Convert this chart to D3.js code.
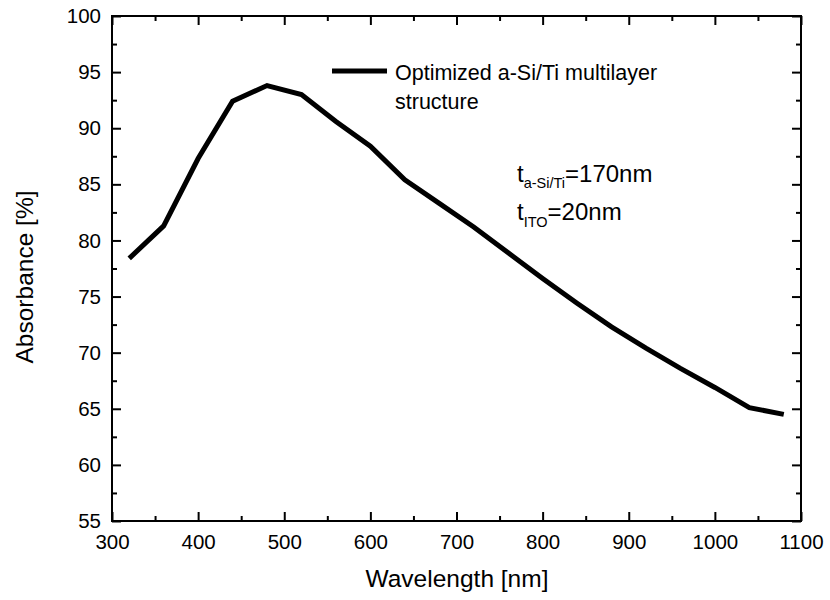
<!DOCTYPE html>
<html>
<head>
<meta charset="utf-8">
<script src="https://cdn.jsdelivr.net/npm/d3@7"></script>
<style>
  body { margin: 0; background: #fff; }
  svg { display: block; font-family: "Liberation Sans", Arial, sans-serif; }
</style>
</head>
<body>
<svg id="chart" width="830" height="600"></svg>
<script>
// Simulated absorbance spectrum of the optimized multilayer
const wavelengths = [320, 360, 400, 440, 480, 520, 560, 600, 640, 680, 720, 760, 800, 840, 880, 920, 960, 1000, 1040, 1080];
const absorbance = [78.4, 81.3, 87.3, 92.4, 93.8, 93.0, 90.6, 88.4, 85.4, 83.3, 81.2, 78.9, 76.6, 74.4, 72.3, 70.4, 68.6, 66.9, 65.1, 64.5];

const xMajorTicks = [300, 400, 500, 600, 700, 800, 900, 1000, 1100];
const xMinorTicks = [350, 450, 550, 650, 750, 850, 950, 1050];
const yMajorTicks = [55, 60, 65, 70, 75, 80, 85, 90, 95, 100];
const yMinorTicks = [57.5, 62.5, 67.5, 72.5, 77.5, 82.5, 87.5, 92.5, 97.5];

const seriesLabel = ["Optimized a-Si/Ti multilayer", "structure"];
const xTitle = "Wavelength [nm]";
const yTitle = "Absorbance [%]";

const svg = d3.select("#chart");
const margin = { left: 112, right: 29, top: 16, bottom: 79 };
const W = 830, H = 600;
const iw = W - margin.left - margin.right;
const ih = H - margin.top - margin.bottom;

const x = d3.scaleLinear().domain([300, 1100]).range([0, iw]);
const y = d3.scaleLinear().domain([55, 100]).range([ih, 0]);

const g = svg.append("g").attr("transform", `translate(${margin.left},${margin.top})`);

const majorLen = 9, minorLen = 5, fs = 20.5;

function styleAxis(sel) {
  sel.select(".domain").remove();
  sel.selectAll(".tick line").attr("stroke", "#000").attr("stroke-width", 2);
  sel.selectAll(".tick text").attr("fill", "#000").style("font-size", fs + "px").style("font-family", "Liberation Sans, Arial, sans-serif");
}

// bottom
g.append("g").attr("transform", `translate(0,${ih})`)
  .call(d3.axisBottom(x).tickValues(xMajorTicks).tickSize(-majorLen).tickPadding(13).tickFormat(d3.format("d")))
  .call(styleAxis);
g.append("g").attr("transform", `translate(0,${ih})`)
  .call(d3.axisBottom(x).tickValues(xMinorTicks).tickSize(-minorLen).tickFormat(""))
  .call(styleAxis);
// top
g.append("g")
  .call(d3.axisTop(x).tickValues(xMajorTicks).tickSize(-majorLen).tickFormat(""))
  .call(styleAxis);
g.append("g")
  .call(d3.axisTop(x).tickValues(xMinorTicks).tickSize(-minorLen).tickFormat(""))
  .call(styleAxis);
// left
g.append("g")
  .call(d3.axisLeft(y).tickValues(yMajorTicks).tickSize(-majorLen).tickPadding(11).tickFormat(d3.format("d")))
  .call(styleAxis);
g.append("g")
  .call(d3.axisLeft(y).tickValues(yMinorTicks).tickSize(-minorLen).tickFormat(""))
  .call(styleAxis);
// right
g.append("g").attr("transform", `translate(${iw},0)`)
  .call(d3.axisRight(y).tickValues(yMajorTicks).tickSize(-majorLen).tickFormat(""))
  .call(styleAxis);
g.append("g").attr("transform", `translate(${iw},0)`)
  .call(d3.axisRight(y).tickValues(yMinorTicks).tickSize(-minorLen).tickFormat(""))
  .call(styleAxis);

// frame
g.append("rect").attr("x", 0).attr("y", 0).attr("width", iw).attr("height", ih)
  .attr("fill", "none").attr("stroke", "#000").attr("stroke-width", 2);

// data line
const line = d3.line().x((d, i) => x(wavelengths[i])).y(d => y(d));
g.append("path").datum(absorbance)
  .attr("d", line)
  .attr("fill", "none").attr("stroke", "#000").attr("stroke-width", 5)
  .attr("stroke-linejoin", "miter");

// legend
g.append("line").attr("x1", 220).attr("x2", 275).attr("y1", 55).attr("y2", 55)
  .attr("stroke", "#000").attr("stroke-width", 5);
g.append("text").attr("x", 283).attr("y", 64).style("font-size", "21.5px").text(seriesLabel[0]);
g.append("text").attr("x", 283).attr("y", 93).style("font-size", "21.5px").text(seriesLabel[1]);

// thickness annotation
const ann1 = g.append("text").attr("x", 405).attr("y", 166).style("font-size", "24px");
ann1.append("tspan").text("t");
ann1.append("tspan").attr("dy", 6).style("font-size", "14.5px").text("a-Si/Ti");
ann1.append("tspan").attr("dy", -6).text("=170nm");
const ann2 = g.append("text").attr("x", 405).attr("y", 204).style("font-size", "24px");
ann2.append("tspan").text("t");
ann2.append("tspan").attr("dy", 7).style("font-size", "14.5px").text("ITO");
ann2.append("tspan").attr("dy", -7).text("=20nm");

// axis titles
svg.append("text").attr("x", 457).attr("y", 587)
  .attr("text-anchor", "middle").style("font-size", "24.5px").text(xTitle);
svg.append("text").attr("transform", `translate(33,277) rotate(-90)`)
  .attr("text-anchor", "middle").style("font-size", "24.5px").text(yTitle);
</script>
</body>
</html>
